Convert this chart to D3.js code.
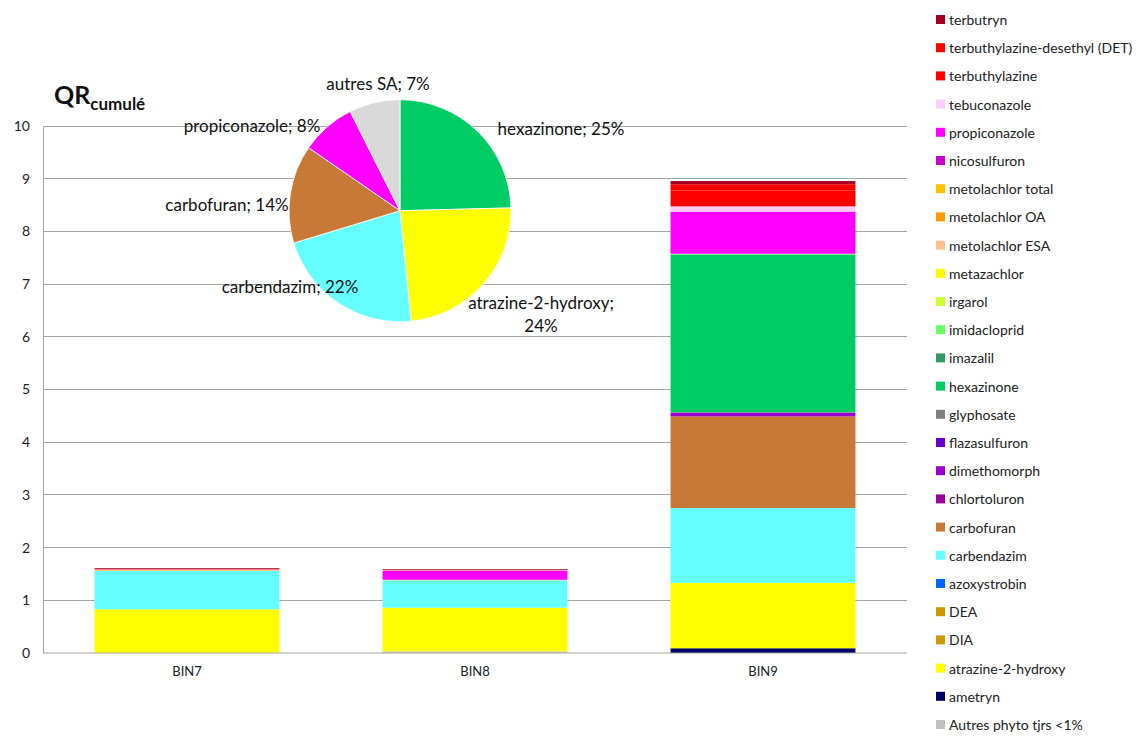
<!DOCTYPE html>
<html>
<head>
<meta charset="utf-8">
<script src="https://cdn.jsdelivr.net/npm/d3@7"></script>
<style>
  html, body { margin: 0; padding: 0; background: #fff; }
  svg { display: block; font-family: Lato, "Open Sans", sans-serif; }
</style>
</head>
<body>
<svg id="chart" width="1139" height="736"></svg>
<script>
// ---------- DATA ----------
const categories = ["BIN7", "BIN8", "BIN9"];

// legend order (top of legend = top of stack)
const substances = [
  "terbutryn", "terbuthylazine-desethyl (DET)", "terbuthylazine", "tebuconazole",
  "propiconazole", "nicosulfuron", "metolachlor total", "metolachlor OA",
  "metolachlor ESA", "metazachlor", "irgarol", "imidacloprid", "imazalil",
  "hexazinone", "glyphosate", "flazasulfuron", "dimethomorph", "chlortoluron",
  "carbofuran", "carbendazim", "azoxystrobin", "DEA", "DIA",
  "atrazine-2-hydroxy", "ametryn", "Autres phyto tjrs <1%"
];

const substanceColors = [
  "#A50021", "#FF0000", "#FF0000", "#FFCCFF",
  "#FF00FF", "#CC00CC", "#FFC000", "#FF9900",
  "#FFBF8F", "#FFFF00", "#CCFF33", "#66FF66", "#339966",
  "#00CC66", "#808080", "#6600CC", "#9900CC", "#990099",
  "#C87937", "#66FFFF", "#0066FF", "#CC9900", "#CC9900",
  "#FFFF00", "#000066", "#C0C0C0"
];

// values per substance: [BIN7, BIN8, BIN9]
const seriesValues = [
  [0.015, 0.015, 0.06],  // terbutryn
  [0, 0, 0.12],          // DET
  [0.008, 0.004, 0.30],  // terbuthylazine
  [0.01, 0.01, 0.10],    // tebuconazole
  [0, 0.17, 0.80],       // propiconazole
  [0, 0, 0],             // nicosulfuron
  [0, 0, 0],             // metolachlor total
  [0, 0, 0],             // metolachlor OA
  [0.02, 0.01, 0.005],   // metolachlor ESA
  [0, 0, 0],             // metazachlor
  [0, 0, 0],             // irgarol
  [0, 0, 0.01],          // imidacloprid
  [0, 0, 0],             // imazalil
  [0, 0, 2.99],          // hexazinone
  [0, 0, 0.01],          // glyphosate
  [0, 0, 0],             // flazasulfuron
  [0, 0, 0.07],          // dimethomorph
  [0, 0, 0],             // chlortoluron
  [0, 0, 1.74],          // carbofuran
  [0.726, 0.52, 1.42],   // carbendazim
  [0, 0, 0],             // azoxystrobin
  [0, 0, 0],             // DEA
  [0, 0, 0],             // DIA
  [0.83, 0.83, 1.24],    // atrazine-2-hydroxy
  [0, 0, 0.09],          // ametryn
  [0, 0.03, 0]           // Autres phyto tjrs <1%
];

const yTicks = [0, 1, 2, 3, 4, 5, 6, 7, 8, 9, 10];

const pieLabels = ["hexazinone", "atrazine-2-hydroxy", "carbendazim", "carbofuran", "propiconazole", "autres SA"];
const pieValues = [24.6, 23.8, 21.9, 14.3, 8.0, 7.4];
const pieColors = ["#00CC66", "#FFFF00", "#66FFFF", "#C87937", "#FF00FF", "#D9D9D9"];

// ---------- LAYOUT ----------
const svg = d3.select("#chart");
const plot = { left: 43, right: 907, top: 126, bottom: 653 };

const x = d3.scaleBand().domain(categories)
  .range([plot.left, plot.right]).paddingInner(0.358).paddingOuter(0.179);
const y = d3.scaleLinear().domain([0, 10]).range([plot.bottom, plot.top]);

// gridlines
svg.append("g").selectAll("line").data(yTicks.filter(d => d > 0)).join("line")
  .attr("x1", plot.left).attr("x2", plot.right)
  .attr("y1", d => y(d)).attr("y2", d => y(d))
  .attr("stroke", "#A6A6A6").attr("stroke-width", 1)
  .attr("shape-rendering", "crispEdges");

// stacked bars: bottom of stack = last legend item
const stackOrder = substances.map((s, i) => i).reverse();
const table = categories.map((c, ci) => {
  const row = { cat: c };
  substances.forEach((s, si) => row[s] = seriesValues[si][ci]);
  return row;
});
const stack = d3.stack().keys(stackOrder.map(i => substances[i]));
const layers = stack(table);

const barsG = svg.append("g");
layers.forEach(layer => {
  const si = substances.indexOf(layer.key);
  barsG.append("g").attr("fill", substanceColors[si])
    .selectAll("rect").data(layer.filter(d => d[1] - d[0] > 0)).join("rect")
    .attr("x", d => x(d.data.cat))
    .attr("width", x.bandwidth())
    .attr("y", d => y(d[1]))
    .attr("height", d => y(d[0]) - y(d[1]));
});

// axes
const yAxis = d3.axisLeft(y).tickValues(yTicks).tickSize(0).tickPadding(13);
const yg = svg.append("g").attr("transform", `translate(${plot.left},0)`).call(yAxis);
yg.select(".domain").attr("stroke", "#A6A6A6");
yg.selectAll("text").attr("font-size", 14).attr("fill", "#222").attr("font-family", "Lato, sans-serif");

const xAxis = d3.axisBottom(x).tickSize(0).tickPadding(14);
const xg = svg.append("g").attr("transform", `translate(0,${plot.bottom})`).call(xAxis);
xg.select(".domain").attr("stroke", "#A6A6A6").attr("d", `M${plot.left},0H${plot.right}`);
xg.selectAll("text").attr("font-size", 13).attr("fill", "#222").attr("font-family", "Lato, sans-serif");

// title
const title = svg.append("text").attr("x", 54).attr("y", 104)
  .attr("font-family", "Lato, sans-serif").attr("font-weight", "bold").attr("fill", "#111");
title.append("tspan").attr("font-size", 25).text("QR");
title.append("tspan").attr("font-size", 17).attr("dy", 6).text("cumulé");

// legend
const legend = svg.append("g").attr("transform", "translate(936,20)");
const li = legend.selectAll("g").data(substances).join("g")
  .attr("transform", (d, i) => `translate(0,${i * 28.2})`);
li.append("rect").attr("x", 0).attr("y", -5).attr("width", 9).attr("height", 9)
  .attr("fill", (d, i) => substanceColors[i]);
li.append("text").attr("x", 13).attr("y", 0).attr("dy", "0.35em")
  .attr("font-size", 14).attr("fill", "#222").text(d => d);

// pie
const pieCenter = [400, 210.7];
const radius = 111;
const pie = d3.pie().sort(null).value(d => d);
const arcs = pie(pieValues);
const arc = d3.arc().innerRadius(0).outerRadius(radius);
const pg = svg.append("g").attr("transform", `translate(${pieCenter[0]},${pieCenter[1]})`);
pg.selectAll("path").data(arcs).join("path")
  .attr("d", arc).attr("fill", (d, i) => pieColors[i])
  .attr("stroke", "#fff").attr("stroke-width", 0.8);

// pie label placement offsets relative to pie center (layout only)
const labelLayout = [
  { dx: 161, dy: -82, lines: 1 },
  { dx: 141, dy: 92, lines: 2 },
  { dx: -110, dy: 76, lines: 1 },
  { dx: -173, dy: -6, lines: 1 },
  { dx: -148, dy: -85, lines: 1 },
  { dx: -22, dy: -127, lines: 1 }
];
pieLabels.forEach((lab, i) => {
  const L = labelLayout[i];
  const pct = Math.round(pieValues[i]) + "%";
  const t = pg.append("text").attr("text-anchor", "middle")
    .attr("font-size", 17).attr("fill", "#111");
  if (L.lines === 2) {
    t.append("tspan").attr("x", L.dx).attr("y", L.dy).attr("dy", "0.35em").text(lab + ";");
    t.append("tspan").attr("x", L.dx).attr("y", L.dy + 23).attr("dy", "0.35em").text(pct);
  } else {
    t.append("tspan").attr("x", L.dx).attr("y", L.dy).attr("dy", "0.35em").text(lab + "; " + pct);
  }
});
</script>
</body>
</html>
